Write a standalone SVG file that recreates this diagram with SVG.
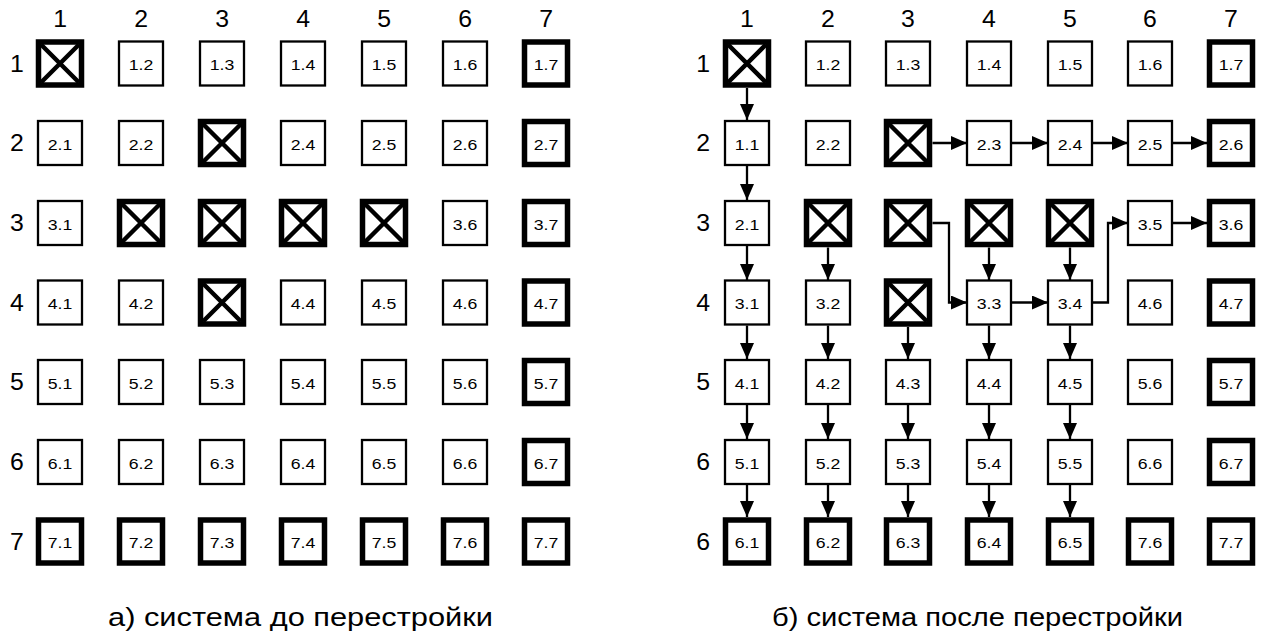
<svg xmlns="http://www.w3.org/2000/svg" width="1268" height="636" viewBox="0 0 1268 636">
<style>
text{font-family:"Liberation Sans",Arial,sans-serif;fill:#000}
.hdr{font-size:23px;text-anchor:middle;transform:scale(1.08,1)}
.lbl{font-size:15.5px;text-anchor:middle;transform:scale(1.14,1)}
.cap{font-size:25px;text-anchor:middle}
.tn{fill:#fff;stroke:#000;stroke-width:2.3}
.tk{fill:#fff;stroke:#000;stroke-width:5.5}
.x{stroke:#000;stroke-width:4.5}
.c{fill:none;stroke:#000;stroke-width:2.3;marker-end:url(#ah)}
</style>
<defs>
<marker id="ah" markerUnits="userSpaceOnUse" markerWidth="17" markerHeight="15" refX="16" refY="7" orient="auto">
<path d="M0,0 L16,7 L0,14 z" fill="#000"/>
</marker>
<g id="thin"><rect class="tn" x="-22" y="-22" width="44" height="44"/></g>
<g id="thick"><rect class="tk" x="-21.5" y="-21.5" width="43" height="43"/></g>
<g id="cross"><rect class="tk" x="-21.5" y="-21.5" width="43" height="43"/><path class="x" d="M-19,-19 L19,19 M19,-19 L-19,19"/></g>
</defs>
<rect width="1268" height="636" fill="#fff"/>

<!-- LEFT headers (x values pre-divided by 1.08 horizontal scale) -->
<g id="left-headers">
<text class="hdr" x="55.6" y="27">1</text><text class="hdr" x="130.6" y="27">2</text><text class="hdr" x="205.6" y="27">3</text><text class="hdr" x="280.6" y="27">4</text><text class="hdr" x="355.6" y="27">5</text><text class="hdr" x="430.6" y="27">6</text><text class="hdr" x="505.6" y="27">7</text>
<text class="hdr" x="15.7" y="72">1</text><text class="hdr" x="15.7" y="151.5">2</text><text class="hdr" x="15.7" y="231.5">3</text><text class="hdr" x="15.7" y="311">4</text><text class="hdr" x="15.7" y="390.5">5</text><text class="hdr" x="15.7" y="470.5">6</text><text class="hdr" x="15.7" y="550">7</text>
</g>

<!-- LEFT grid -->
<g id="L11" transform="translate(60,63.5)"><use href="#cross"/></g>
<g id="L12" transform="translate(141,63.5)"><use href="#thin"/><text class="lbl" y="6.5">1.2</text></g>
<g id="L13" transform="translate(222,63.5)"><use href="#thin"/><text class="lbl" y="6.5">1.3</text></g>
<g id="L14" transform="translate(303,63.5)"><use href="#thin"/><text class="lbl" y="6.5">1.4</text></g>
<g id="L15" transform="translate(384,63.5)"><use href="#thin"/><text class="lbl" y="6.5">1.5</text></g>
<g id="L16" transform="translate(465,63.5)"><use href="#thin"/><text class="lbl" y="6.5">1.6</text></g>
<g id="L17" transform="translate(546,63.5)"><use href="#thick"/><text class="lbl" y="6.5">1.7</text></g>

<g id="L21" transform="translate(60,143)"><use href="#thin"/><text class="lbl" y="6.5">2.1</text></g>
<g id="L22" transform="translate(141,143)"><use href="#thin"/><text class="lbl" y="6.5">2.2</text></g>
<g id="L23" transform="translate(222,143)"><use href="#cross"/></g>
<g id="L24" transform="translate(303,143)"><use href="#thin"/><text class="lbl" y="6.5">2.4</text></g>
<g id="L25" transform="translate(384,143)"><use href="#thin"/><text class="lbl" y="6.5">2.5</text></g>
<g id="L26" transform="translate(465,143)"><use href="#thin"/><text class="lbl" y="6.5">2.6</text></g>
<g id="L27" transform="translate(546,143)"><use href="#thick"/><text class="lbl" y="6.5">2.7</text></g>

<g id="L31" transform="translate(60,223)"><use href="#thin"/><text class="lbl" y="6.5">3.1</text></g>
<g id="L32" transform="translate(141,223)"><use href="#cross"/></g>
<g id="L33" transform="translate(222,223)"><use href="#cross"/></g>
<g id="L34" transform="translate(303,223)"><use href="#cross"/></g>
<g id="L35" transform="translate(384,223)"><use href="#cross"/></g>
<g id="L36" transform="translate(465,223)"><use href="#thin"/><text class="lbl" y="6.5">3.6</text></g>
<g id="L37" transform="translate(546,223)"><use href="#thick"/><text class="lbl" y="6.5">3.7</text></g>

<g id="L41" transform="translate(60,302.5)"><use href="#thin"/><text class="lbl" y="6.5">4.1</text></g>
<g id="L42" transform="translate(141,302.5)"><use href="#thin"/><text class="lbl" y="6.5">4.2</text></g>
<g id="L43" transform="translate(222,302.5)"><use href="#cross"/></g>
<g id="L44" transform="translate(303,302.5)"><use href="#thin"/><text class="lbl" y="6.5">4.4</text></g>
<g id="L45" transform="translate(384,302.5)"><use href="#thin"/><text class="lbl" y="6.5">4.5</text></g>
<g id="L46" transform="translate(465,302.5)"><use href="#thin"/><text class="lbl" y="6.5">4.6</text></g>
<g id="L47" transform="translate(546,302.5)"><use href="#thick"/><text class="lbl" y="6.5">4.7</text></g>

<g id="L51" transform="translate(60,382)"><use href="#thin"/><text class="lbl" y="6.5">5.1</text></g>
<g id="L52" transform="translate(141,382)"><use href="#thin"/><text class="lbl" y="6.5">5.2</text></g>
<g id="L53" transform="translate(222,382)"><use href="#thin"/><text class="lbl" y="6.5">5.3</text></g>
<g id="L54" transform="translate(303,382)"><use href="#thin"/><text class="lbl" y="6.5">5.4</text></g>
<g id="L55" transform="translate(384,382)"><use href="#thin"/><text class="lbl" y="6.5">5.5</text></g>
<g id="L56" transform="translate(465,382)"><use href="#thin"/><text class="lbl" y="6.5">5.6</text></g>
<g id="L57" transform="translate(546,382)"><use href="#thick"/><text class="lbl" y="6.5">5.7</text></g>

<g id="L61" transform="translate(60,462)"><use href="#thin"/><text class="lbl" y="6.5">6.1</text></g>
<g id="L62" transform="translate(141,462)"><use href="#thin"/><text class="lbl" y="6.5">6.2</text></g>
<g id="L63" transform="translate(222,462)"><use href="#thin"/><text class="lbl" y="6.5">6.3</text></g>
<g id="L64" transform="translate(303,462)"><use href="#thin"/><text class="lbl" y="6.5">6.4</text></g>
<g id="L65" transform="translate(384,462)"><use href="#thin"/><text class="lbl" y="6.5">6.5</text></g>
<g id="L66" transform="translate(465,462)"><use href="#thin"/><text class="lbl" y="6.5">6.6</text></g>
<g id="L67" transform="translate(546,462)"><use href="#thick"/><text class="lbl" y="6.5">6.7</text></g>

<g id="L71" transform="translate(60,541.5)"><use href="#thick"/><text class="lbl" y="6.5">7.1</text></g>
<g id="L72" transform="translate(141,541.5)"><use href="#thick"/><text class="lbl" y="6.5">7.2</text></g>
<g id="L73" transform="translate(222,541.5)"><use href="#thick"/><text class="lbl" y="6.5">7.3</text></g>
<g id="L74" transform="translate(303,541.5)"><use href="#thick"/><text class="lbl" y="6.5">7.4</text></g>
<g id="L75" transform="translate(384,541.5)"><use href="#thick"/><text class="lbl" y="6.5">7.5</text></g>
<g id="L76" transform="translate(465,541.5)"><use href="#thick"/><text class="lbl" y="6.5">7.6</text></g>
<g id="L77" transform="translate(546,541.5)"><use href="#thick"/><text class="lbl" y="6.5">7.7</text></g>

<!-- RIGHT headers (x values pre-divided by 1.08 horizontal scale) -->
<g id="right-headers">
<text class="hdr" x="691.7" y="27">1</text><text class="hdr" x="766.7" y="27">2</text><text class="hdr" x="840.7" y="27">3</text><text class="hdr" x="915.7" y="27">4</text><text class="hdr" x="990.7" y="27">5</text><text class="hdr" x="1064.8" y="27">6</text><text class="hdr" x="1139.8" y="27">7</text>
<text class="hdr" x="651" y="72">1</text><text class="hdr" x="651" y="151.5">2</text><text class="hdr" x="651" y="231.5">3</text><text class="hdr" x="651" y="311">4</text><text class="hdr" x="651" y="390.5">5</text><text class="hdr" x="651" y="470.5">6</text><text class="hdr" x="651" y="550">6</text>
</g>

<!-- RIGHT grid -->
<g id="R11" transform="translate(747,63.5)"><use href="#cross"/></g>
<g id="R12" transform="translate(828,63.5)"><use href="#thin"/><text class="lbl" y="6.5">1.2</text></g>
<g id="R13" transform="translate(908,63.5)"><use href="#thin"/><text class="lbl" y="6.5">1.3</text></g>
<g id="R14" transform="translate(989,63.5)"><use href="#thin"/><text class="lbl" y="6.5">1.4</text></g>
<g id="R15" transform="translate(1070,63.5)"><use href="#thin"/><text class="lbl" y="6.5">1.5</text></g>
<g id="R16" transform="translate(1150,63.5)"><use href="#thin"/><text class="lbl" y="6.5">1.6</text></g>
<g id="R17" transform="translate(1231,63.5)"><use href="#thick"/><text class="lbl" y="6.5">1.7</text></g>

<g id="R21" transform="translate(747,143)"><use href="#thin"/><text class="lbl" y="6.5">1.1</text></g>
<g id="R22" transform="translate(828,143)"><use href="#thin"/><text class="lbl" y="6.5">2.2</text></g>
<g id="R23" transform="translate(908,143)"><use href="#cross"/></g>
<g id="R24" transform="translate(989,143)"><use href="#thin"/><text class="lbl" y="6.5">2.3</text></g>
<g id="R25" transform="translate(1070,143)"><use href="#thin"/><text class="lbl" y="6.5">2.4</text></g>
<g id="R26" transform="translate(1150,143)"><use href="#thin"/><text class="lbl" y="6.5">2.5</text></g>
<g id="R27" transform="translate(1231,143)"><use href="#thick"/><text class="lbl" y="6.5">2.6</text></g>

<g id="R31" transform="translate(747,223)"><use href="#thin"/><text class="lbl" y="6.5">2.1</text></g>
<g id="R32" transform="translate(828,223)"><use href="#cross"/></g>
<g id="R33" transform="translate(908,223)"><use href="#cross"/></g>
<g id="R34" transform="translate(989,223)"><use href="#cross"/></g>
<g id="R35" transform="translate(1070,223)"><use href="#cross"/></g>
<g id="R36" transform="translate(1150,223)"><use href="#thin"/><text class="lbl" y="6.5">3.5</text></g>
<g id="R37" transform="translate(1231,223)"><use href="#thick"/><text class="lbl" y="6.5">3.6</text></g>

<g id="R41" transform="translate(747,302.5)"><use href="#thin"/><text class="lbl" y="6.5">3.1</text></g>
<g id="R42" transform="translate(828,302.5)"><use href="#thin"/><text class="lbl" y="6.5">3.2</text></g>
<g id="R43" transform="translate(908,302.5)"><use href="#cross"/></g>
<g id="R44" transform="translate(989,302.5)"><use href="#thin"/><text class="lbl" y="6.5">3.3</text></g>
<g id="R45" transform="translate(1070,302.5)"><use href="#thin"/><text class="lbl" y="6.5">3.4</text></g>
<g id="R46" transform="translate(1150,302.5)"><use href="#thin"/><text class="lbl" y="6.5">4.6</text></g>
<g id="R47" transform="translate(1231,302.5)"><use href="#thick"/><text class="lbl" y="6.5">4.7</text></g>

<g id="R51" transform="translate(747,382)"><use href="#thin"/><text class="lbl" y="6.5">4.1</text></g>
<g id="R52" transform="translate(828,382)"><use href="#thin"/><text class="lbl" y="6.5">4.2</text></g>
<g id="R53" transform="translate(908,382)"><use href="#thin"/><text class="lbl" y="6.5">4.3</text></g>
<g id="R54" transform="translate(989,382)"><use href="#thin"/><text class="lbl" y="6.5">4.4</text></g>
<g id="R55" transform="translate(1070,382)"><use href="#thin"/><text class="lbl" y="6.5">4.5</text></g>
<g id="R56" transform="translate(1150,382)"><use href="#thin"/><text class="lbl" y="6.5">5.6</text></g>
<g id="R57" transform="translate(1231,382)"><use href="#thick"/><text class="lbl" y="6.5">5.7</text></g>

<g id="R61" transform="translate(747,462)"><use href="#thin"/><text class="lbl" y="6.5">5.1</text></g>
<g id="R62" transform="translate(828,462)"><use href="#thin"/><text class="lbl" y="6.5">5.2</text></g>
<g id="R63" transform="translate(908,462)"><use href="#thin"/><text class="lbl" y="6.5">5.3</text></g>
<g id="R64" transform="translate(989,462)"><use href="#thin"/><text class="lbl" y="6.5">5.4</text></g>
<g id="R65" transform="translate(1070,462)"><use href="#thin"/><text class="lbl" y="6.5">5.5</text></g>
<g id="R66" transform="translate(1150,462)"><use href="#thin"/><text class="lbl" y="6.5">6.6</text></g>
<g id="R67" transform="translate(1231,462)"><use href="#thick"/><text class="lbl" y="6.5">6.7</text></g>

<g id="R71" transform="translate(747,541.5)"><use href="#thick"/><text class="lbl" y="6.5">6.1</text></g>
<g id="R72" transform="translate(828,541.5)"><use href="#thick"/><text class="lbl" y="6.5">6.2</text></g>
<g id="R73" transform="translate(908,541.5)"><use href="#thick"/><text class="lbl" y="6.5">6.3</text></g>
<g id="R74" transform="translate(989,541.5)"><use href="#thick"/><text class="lbl" y="6.5">6.4</text></g>
<g id="R75" transform="translate(1070,541.5)"><use href="#thick"/><text class="lbl" y="6.5">6.5</text></g>
<g id="R76" transform="translate(1150,541.5)"><use href="#thick"/><text class="lbl" y="6.5">7.6</text></g>
<g id="R77" transform="translate(1231,541.5)"><use href="#thick"/><text class="lbl" y="6.5">7.7</text></g>

<!-- connectors -->
<g id="connectors">
<path class="c" d="M747,88 L747,120"/>
<path class="c" d="M747,166 L747,200"/>
<path class="c" d="M747,246 L747,280"/>
<path class="c" d="M747,325.5 L747,359"/>
<path class="c" d="M747,405 L747,439"/>
<path class="c" d="M747,485 L747,517"/>
<path class="c" d="M828,247.5 L828,280"/>
<path class="c" d="M828,325.5 L828,359"/>
<path class="c" d="M828,405 L828,439"/>
<path class="c" d="M828,485 L828,517"/>
<path class="c" d="M908,327 L908,359"/>
<path class="c" d="M908,405 L908,439"/>
<path class="c" d="M908,485 L908,517"/>
<path class="c" d="M989,247.5 L989,280"/>
<path class="c" d="M989,325.5 L989,359"/>
<path class="c" d="M989,405 L989,439"/>
<path class="c" d="M989,485 L989,517"/>
<path class="c" d="M1070,247.5 L1070,280"/>
<path class="c" d="M1070,325.5 L1070,359"/>
<path class="c" d="M1070,405 L1070,439"/>
<path class="c" d="M1070,485 L1070,517"/>
<path class="c" d="M932.5,143 L967,143"/>
<path class="c" d="M1012,143 L1048,143"/>
<path class="c" d="M1093,143 L1128,143"/>
<path class="c" d="M1173,143 L1207,143"/>
<path class="c" d="M932.5,223 L949,223 L949,302.5 L967,302.5"/>
<path class="c" d="M1012,302.5 L1048,302.5"/>
<path class="c" d="M1093,302.5 L1108,302.5 L1108,223 L1128,223"/>
<path class="c" d="M1173,223 L1207,223"/>
</g>

<g id="captions">
<text class="cap" x="300.5" y="626" textLength="385" lengthAdjust="spacingAndGlyphs">а) система до перестройки</text>
<text class="cap" x="977.5" y="626" textLength="411" lengthAdjust="spacingAndGlyphs">б) система после перестройки</text>
</g>
</svg>
